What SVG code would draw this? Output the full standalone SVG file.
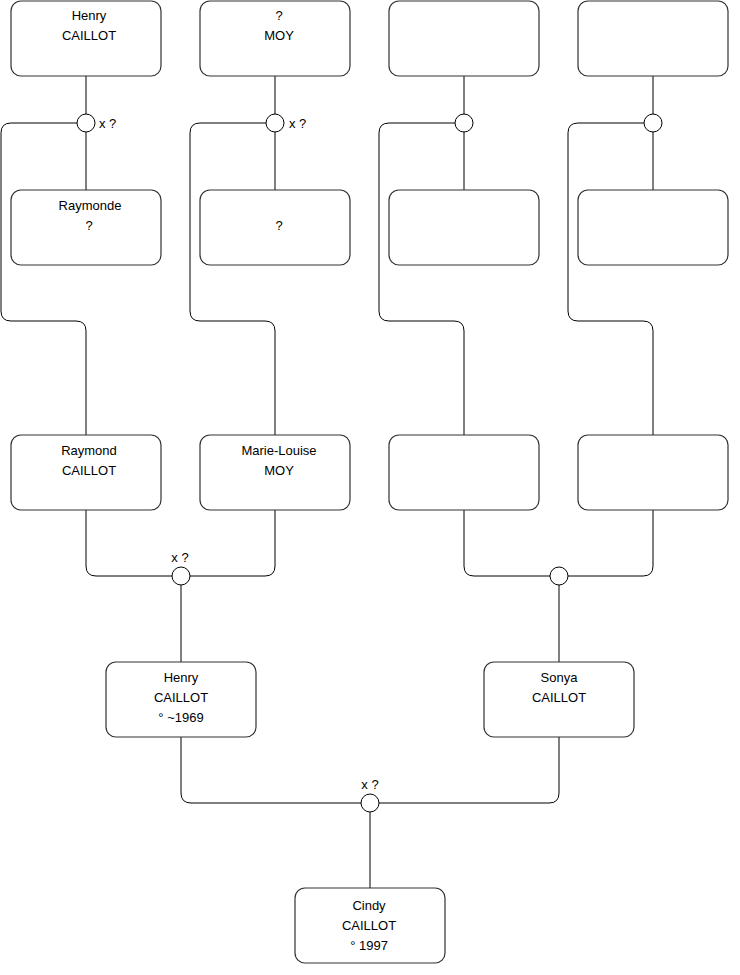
<svg xmlns="http://www.w3.org/2000/svg" width="740" height="975" viewBox="0 0 740 975">
<style>
.box{fill:#fff;stroke:#333;stroke-width:1.2}
.ln{fill:none;stroke:#000;stroke-width:1}
.jn{fill:#fff;stroke:#000;stroke-width:1}
text{font-family:"Liberation Sans",Arial,Helvetica,sans-serif;font-size:13px;fill:#000;text-anchor:middle;dominant-baseline:central}
.lbl{text-anchor:start}
</style>
<rect width="740" height="975" fill="#fff"/>
<g id="connectors">
<path class="ln" d="M86,76 V114 M86,132 V190 M77,123 H11 Q1,123 1,133 V311 Q1,321 11,321 H76 Q86,321 86,331 V435"/>
<path class="ln" d="M275,76 V114 M275,132 V190 M266,123 H200 Q190,123 190,133 V311 Q190,321 200,321 H265 Q275,321 275,331 V435"/>
<path class="ln" d="M464,76 V114 M464,132 V190 M455,123 H389 Q379,123 379,133 V311 Q379,321 389,321 H454 Q464,321 464,331 V435"/>
<path class="ln" d="M653,76 V114 M653,132 V190 M644,123 H578 Q568,123 568,133 V311 Q568,321 578,321 H643 Q653,321 653,331 V435"/>
<path class="ln" d="M86,510 V566 Q86,576 96,576 H172 M275,510 V566 Q275,576 265,576 H190 M181,585 V662"/>
<path class="ln" d="M464,510 V566 Q464,576 474,576 H550 M653,510 V566 Q653,576 643,576 H568 M559,585 V662"/>
<path class="ln" d="M181,737 V793 Q181,803 191,803 H361 M559,737 V793 Q559,803 549,803 H379 M370,812 V888"/>
<circle class="jn" cx="86" cy="123" r="9"/>
<circle class="jn" cx="275" cy="123" r="9"/>
<circle class="jn" cx="464" cy="123" r="9"/>
<circle class="jn" cx="653" cy="123" r="9"/>
<circle class="jn" cx="181" cy="576" r="9"/>
<circle class="jn" cx="559" cy="576" r="9"/>
<circle class="jn" cx="370" cy="803" r="9"/>
<text class="lbl" x="99" y="123">x ?</text>
<text class="lbl" x="289" y="123">x ?</text>
<text x="180" y="557">x ?</text>
<text x="370" y="784">x ?</text>
</g>
<g id="n-henry-sr"><rect class="box" x="11" y="1" width="150" height="75" rx="10"/><text x="89" y="15">Henry</text><text x="89" y="35">CAILLOT</text></g>
<g id="n-moy-sr"><rect class="box" x="200" y="1" width="150" height="75" rx="10"/><text x="279" y="15">?</text><text x="279" y="35">MOY</text></g>
<g id="n-top3"><rect class="box" x="389" y="1" width="150" height="75" rx="10"/></g>
<g id="n-top4"><rect class="box" x="578" y="1" width="150" height="75" rx="10"/></g>
<g id="n-raymonde"><rect class="box" x="11" y="190" width="150" height="75" rx="10"/><text x="90" y="205">Raymonde</text><text x="89" y="225">?</text></g>
<g id="n-moy-spouse"><rect class="box" x="200" y="190" width="150" height="75" rx="10"/><text x="279" y="225">?</text></g>
<g id="n-row2-3"><rect class="box" x="389" y="190" width="150" height="75" rx="10"/></g>
<g id="n-row2-4"><rect class="box" x="578" y="190" width="150" height="75" rx="10"/></g>
<g id="n-raymond"><rect class="box" x="11" y="435" width="150" height="75" rx="10"/><text x="89" y="450">Raymond</text><text x="89" y="470">CAILLOT</text></g>
<g id="n-marie-louise"><rect class="box" x="200" y="435" width="150" height="75" rx="10"/><text x="279" y="450">Marie-Louise</text><text x="279" y="470">MOY</text></g>
<g id="n-row3-3"><rect class="box" x="389" y="435" width="150" height="75" rx="10"/></g>
<g id="n-row3-4"><rect class="box" x="578" y="435" width="150" height="75" rx="10"/></g>
<g id="n-henry"><rect class="box" x="106" y="662" width="150" height="75" rx="10"/><text x="181" y="677">Henry</text><text x="181" y="697">CAILLOT</text><text x="181" y="717">° ~1969</text></g>
<g id="n-sonya"><rect class="box" x="484" y="662" width="150" height="75" rx="10"/><text x="559" y="677">Sonya</text><text x="559" y="697">CAILLOT</text></g>
<g id="n-cindy"><rect class="box" x="295" y="888" width="150" height="75" rx="10"/><text x="369" y="905">Cindy</text><text x="369" y="925">CAILLOT</text><text x="369" y="945">° 1997</text></g>
</svg>
